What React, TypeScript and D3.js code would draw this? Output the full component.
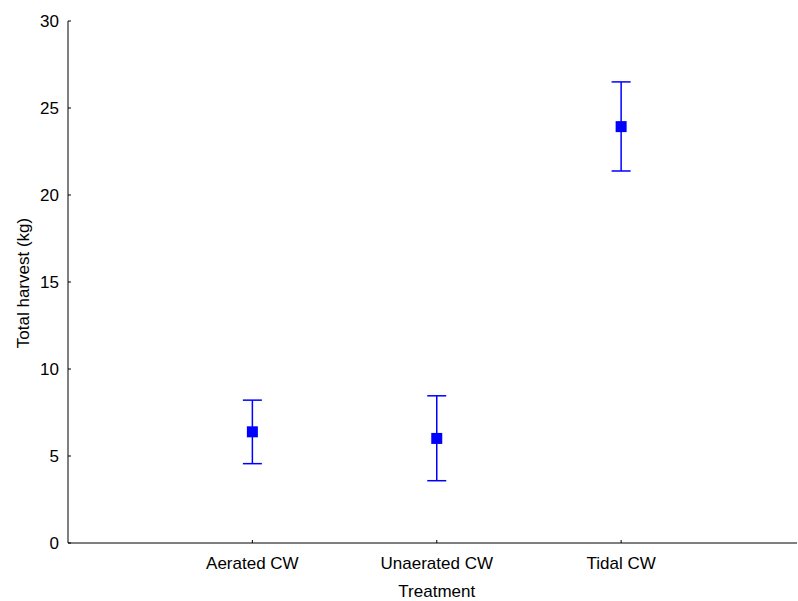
import React from "react";
import * as d3 from "d3";

const categories = ["Aerated CW", "Unaerated CW", "Tidal CW"];
const means = [6.39, 6.01, 23.93];
const upper = [8.21, 8.46, 26.5];
const lower = [4.56, 3.58, 21.38];
const yTicks = [0, 5, 10, 15, 20, 25, 30];

export default function App() {
  const W = 798, H = 601;
  const left = 68, right = 797, top = 21, bottom = 543;
  const x = d3.scaleLinear().domain([0, 4]).range([left, 805.5]);
  const y = d3.scaleLinear().domain([0, 30]).range([bottom, top]);
  const font = "'Liberation Sans', Arial, sans-serif";
  const blue = "#0000ff";
  return (
    <svg width={W} height={H} style={{ position: "absolute", left: 0, top: 0, background: "#fff" }}>
      <g fontFamily={font} fontSize={17} fill="#000">
        <line x1={left} x2={left} y1={top} y2={bottom} stroke="#000" strokeWidth={1} />
        <line x1={left} x2={right} y1={bottom} y2={bottom} stroke="#000" strokeWidth={1} />
        {yTicks.map((t) => (
          <g key={t}>
            <line x1={left} x2={left + 3} y1={y(t)} y2={y(t)} stroke="#000" />
            <text x={left - 9} y={y(t)} dy="0.35em" textAnchor="end">{t}</text>
          </g>
        ))}
        {categories.map((c, i) => (
          <g key={c}>
            <line x1={x(i + 1)} x2={x(i + 1)} y1={bottom} y2={bottom - 3} stroke="#000" />
            <text x={x(i + 1)} y={569} textAnchor="middle">{c}</text>
          </g>
        ))}
        <text x={x(2)} y={597} textAnchor="middle">Treatment</text>
        <text transform={`translate(29, 283) rotate(-90)`} textAnchor="middle">Total harvest (kg)</text>
        {categories.map((c, i) => {
          const cx = x(i + 1);
          return (
            <g key={"e" + c} stroke={blue} strokeWidth={1.5}>
              <line x1={cx} x2={cx} y1={y(upper[i])} y2={y(lower[i])} />
              <line x1={cx - 9.5} x2={cx + 9.5} y1={y(upper[i])} y2={y(upper[i])} />
              <line x1={cx - 9.5} x2={cx + 9.5} y1={y(lower[i])} y2={y(lower[i])} />
              <rect x={cx - 5.5} y={y(means[i]) - 5.5} width={11} height={11} fill={blue} stroke="none" />
            </g>
          );
        })}
      </g>
    </svg>
  );
}
